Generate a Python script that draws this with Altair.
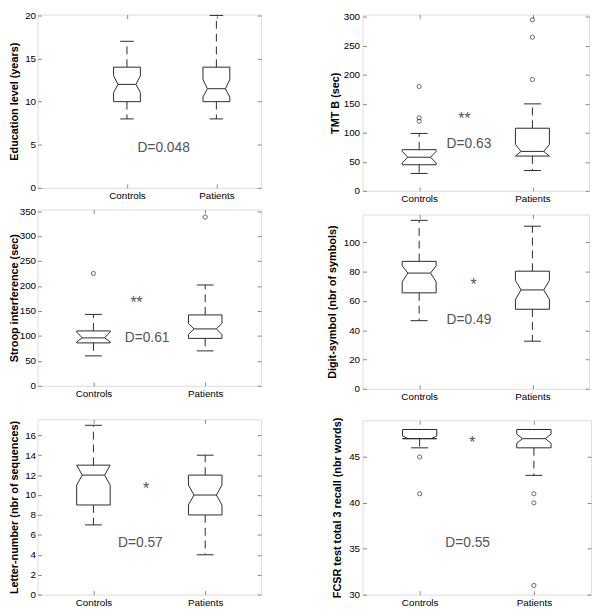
import altair as alt
import pandas as pd

# ---------------- data ----------------
groups = ["Controls", "Patients"]
positions = [1, 2]

titles = [
    "Education level (years)",
    "TMT B (sec)",
    "Stroop interference (sec)",
    "Digit-symbol (nbr of symbols)",
    "Letter-number (nbr of sequences)",
    "FCSR test total 3 recall (nbr words)",
]

# box statistics per panel: [Controls, Patients]
whisk_lo = [[8, 8], [30, 35], [60, 70], [46.5, 32.5], [7, 4], [46, 43]]
q1 = [[10, 10], [45, 60], [86, 95], [65.5, 54.3], [9, 8], [47, 46]]
notch_lo = [[11.05, 10.55], [48, 60], [88, 103], [73, 61], [11, 9], [47, 46.5]]
median = [[12, 11.5], [58, 68], [96, 114], [79, 67.5], [12, 10], [47, 47]]
notch_hi = [[13.0, 12.55], [68, 80], [108, 125], [84, 74], [13, 11], [47.3, 47.5]]
q3 = [[14, 14], [71, 108], [110, 142], [87, 80.3], [13, 12], [48, 48]]
whisk_hi = [[17, 20], [99, 150], [143, 202], [115, 111], [17, 14], [48, 48]]
outliers = [
    [[], []],
    [[120, 126, 180], [192, 265, 295]],
    [[225], [338]],
    [[], []],
    [[], []],
    [[45, 41], [41, 40, 31]],
]

effect_labels = ["D=0.048", "D=0.63", "D=0.61", "D=0.49", "D=0.57", "D=0.55"]
effect_x = [1.41, 1.44, 1.48, 1.44, 1.42, 1.42]
effect_y = [4.6, 81, 95, 47, 5.2, 35.6]
star_labels = ["", "**", "**", "*", "*", "*"]
star_x = [1.4, 1.40, 1.386, 1.48, 1.47, 1.46]
star_y = [0, 130, 174, 73.8, 11.0, 47.0]

y_domains = [[0, 20.1], [0, 304], [0, 353], [0, 119], [0, 17.6], [30, 49]]
y_ticks = [
    [0, 5, 10, 15, 20],
    [0, 50, 100, 150, 200, 250, 300],
    [0, 50, 100, 150, 200, 250, 300, 350],
    [0, 20, 40, 60, 80, 100],
    [0, 2, 4, 6, 8, 10, 12, 14, 16],
    [30, 35, 40, 45],
]
x_domains = [[0, 2.5], [0.5, 2.5], [0.5, 2.5], [0.5, 2.5], [0.5, 2.5], [0.5, 2.5]]

# ---------------- layout / style ----------------
widths = [227, 230, 227, 230, 227, 232]
heights = [176, 179, 179, 177, 178, 177]
x_extent = [17, 22, 32, 27, 14, 14]      # space below each panel (incl. labels)
y_title_ext = [22, 26, 22, 29, 22, 24]   # distance axis line -> title
label_pad = [2, 3, 2, 3, 2, 3]

LINE = "#2a2a2a"
FRAME = "#666666"
FONT = "Liberation Sans"
BOX_HW = 0.15
NOTCH_HW = 0.10
CAP_HW = 0.075
TICK = 4

label_expr = " : ".join(
    [f"datum.value == {p} ? '{g}'" for p, g in zip(positions[:-1], groups[:-1])]
    + [f"'{groups[-1]}'"]
)


def panel(k):
    box_rows, med_rows, wh_rows, cap_rows, out_rows = [], [], [], [], []
    for j, (g, p) in enumerate(zip(groups, positions)):
        a, b, c, d, e = q1[k][j], notch_lo[k][j], median[k][j], notch_hi[k][j], q3[k][j]
        verts = [
            (p - BOX_HW, a), (p - BOX_HW, b), (p - NOTCH_HW, c), (p - BOX_HW, d),
            (p - BOX_HW, e), (p + BOX_HW, e), (p + BOX_HW, d), (p + NOTCH_HW, c),
            (p + BOX_HW, b), (p + BOX_HW, a), (p - BOX_HW, a),
        ]
        for i, (vx, vy) in enumerate(verts):
            box_rows.append({"g": g, "i": i, "x": vx, "y": vy})
        med_rows.append({"x": p - NOTCH_HW, "x2": p + NOTCH_HW, "y": c})
        wh_rows.append({"x": p, "y": e, "y2": whisk_hi[k][j]})
        wh_rows.append({"x": p, "y": a, "y2": whisk_lo[k][j]})
        cap_rows.append({"x": p - CAP_HW, "x2": p + CAP_HW, "y": whisk_hi[k][j]})
        cap_rows.append({"x": p - CAP_HW, "x2": p + CAP_HW, "y": whisk_lo[k][j]})
        for o in outliers[k][j]:
            out_rows.append({"x": p, "y": o})

    xs = alt.Scale(domain=x_domains[k], nice=False, zero=False)
    ys = alt.Scale(domain=y_domains[k], nice=False, zero=False)

    ax_bottom = alt.Axis(
        orient="bottom", values=positions, labelExpr=label_expr, title=None,
        offset=-TICK, tickSize=TICK, labelPadding=3, domain=False, grid=False,
        minExtent=x_extent[k] + TICK, maxExtent=x_extent[k] + TICK,
    )
    ax_left = alt.Axis(
        orient="left", values=y_ticks[k], format="d", title=titles[k],
        offset=-TICK, tickSize=TICK, labelPadding=label_pad[k], domain=False,
        grid=False, titlePadding=0,
        minExtent=y_title_ext[k], maxExtent=y_title_ext[k],
    )
    ax_top = alt.Axis(
        orient="top", values=positions, labels=False, title=None, offset=-TICK,
        tickSize=TICK, domain=False, grid=False, minExtent=0, maxExtent=0,
    )
    ax_right = alt.Axis(
        orient="right", values=y_ticks[k], labels=False, title=None, offset=-TICK,
        tickSize=TICK, domain=False, grid=False, minExtent=0, maxExtent=0,
    )

    box = alt.Chart(pd.DataFrame(box_rows)).mark_line(color=LINE, strokeWidth=1).encode(
        x=alt.X("x:Q", scale=xs, axis=ax_bottom),
        y=alt.Y("y:Q", scale=ys, axis=ax_left),
        detail="g:N",
        order="i:Q",
    )
    med = alt.Chart(pd.DataFrame(med_rows)).mark_rule(color=LINE, strokeWidth=1).encode(
        x=alt.X("x:Q", scale=xs, axis=ax_top),
        x2="x2:Q",
        y=alt.Y("y:Q", scale=ys, axis=ax_right),
    )
    wh = alt.Chart(pd.DataFrame(wh_rows)).mark_rule(
        color=LINE, strokeWidth=1, strokeDash=[8, 5]
    ).encode(
        x=alt.X("x:Q", scale=xs, axis=None),
        y=alt.Y("y:Q", scale=ys, axis=None),
        y2="y2:Q",
    )
    caps = alt.Chart(pd.DataFrame(cap_rows)).mark_rule(color=LINE, strokeWidth=1).encode(
        x=alt.X("x:Q", scale=xs, axis=None),
        x2="x2:Q",
        y=alt.Y("y:Q", scale=ys, axis=None),
    )
    layers = [box, med, wh, caps]
    if out_rows:
        layers.append(
            alt.Chart(pd.DataFrame(out_rows)).mark_point(
                shape="circle", size=18, filled=False, color=LINE, strokeWidth=1
            ).encode(
                x=alt.X("x:Q", scale=xs, axis=None),
                y=alt.Y("y:Q", scale=ys, axis=None),
            )
        )
    txt = pd.DataFrame([{"x": effect_x[k], "y": effect_y[k], "t": effect_labels[k]}])
    layers.append(
        alt.Chart(txt).mark_text(
            font=FONT, fontSize=14, color="#555555", baseline="middle", align="center"
        ).encode(
            x=alt.X("x:Q", scale=xs, axis=None),
            y=alt.Y("y:Q", scale=ys, axis=None),
            text="t:N",
        )
    )
    if star_labels[k]:
        st = pd.DataFrame([{"x": star_x[k], "y": star_y[k], "t": star_labels[k]}])
        layers.append(
            alt.Chart(st).mark_text(
                font=FONT, fontSize=16, color="#555555", baseline="middle",
                align="center", dy=4
            ).encode(
                x=alt.X("x:Q", scale=xs, axis=None),
                y=alt.Y("y:Q", scale=ys, axis=None),
                text="t:N",
            )
        )
    return (
        alt.layer(*layers)
        .resolve_axis(x="independent", y="independent")
        .properties(width=widths[k], height=heights[k])
    )


left = alt.vconcat(panel(0), panel(2), panel(4), spacing=0)
right = alt.vconcat(panel(1), panel(3), panel(5), spacing=0)

chart = (
    alt.hconcat(left, right, spacing=65)
    .properties(padding={"left": 0, "top": -3, "right": 0, "bottom": 0})
    .configure_view(stroke=FRAME, strokeWidth=1)
    .configure_axis(
        labelFont=FONT, labelFontSize=10, labelFontWeight="bold", labelColor="#222222",
        titleFont=FONT, titleFontSize=11, titleFontWeight="bold", titleColor="#111111",
        tickColor=FRAME, tickWidth=1,
    )
    .configure(background="white")
)

chart.save("out.html", embed_options={"renderer": "svg", "actions": False})
